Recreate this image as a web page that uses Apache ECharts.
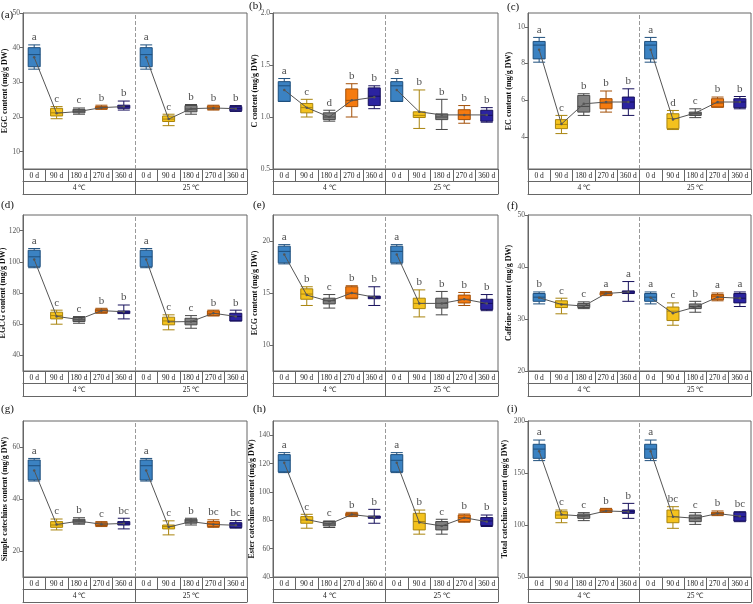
<!DOCTYPE html>
<html>
<head>
<meta charset="utf-8">
<script src="https://cdn.jsdelivr.net/npm/echarts@6/dist/echarts.min.js"></script>
<style>
  html, body { margin: 0; padding: 0; background: #fff; }
  #chart { width: 753px; height: 604px; }
</style>
</head>
<body>
<div id="chart"></div>
<script>
const days = ['0 d', '90 d', '180 d', '270 d', '360 d'];
const groups = ['4 ℃', '25 ℃'];
const dayColors = ['#3b82c2', '#f4c21d', '#808080', '#f57b10', '#2b23a0'];
const dayBorders = ['#1e4f7d', '#a9840e', '#474747', '#a34f07', '#17105c'];

// each box: [min, Q1, median, Q3, max]; order 4 ℃ 0-360 d, then 25 ℃ 0-360 d
const egcBox = [
  [33.8, 34.5, 38.0, 40.0, 40.8], [19.5, 20.3, 21.2, 22.5, 23.0], [20.8, 21.2, 21.7, 22.2, 22.6],
  [22.2, 22.4, 22.7, 23.0, 23.4], [22.0, 22.5, 23.0, 23.4, 24.6],
  [33.8, 34.5, 38.0, 40.0, 40.8], [17.5, 18.7, 19.4, 20.3, 20.8], [20.8, 21.5, 22.3, 23.3, 23.6],
  [22.0, 22.2, 22.6, 23.2, 23.4], [21.6, 21.8, 22.4, 23.0, 23.3]
];
const egcMean = [37.2, 21.1, 21.6, 22.7, 23.0, 37.2, 19.4, 22.4, 22.6, 22.4];
const egcLetters = ['a', 'c', 'c', 'b', 'b', 'a', 'c', 'b', 'b', 'b'];
const egcTicks = [10, 20, 30, 40, 50];

const cBox = [
  [1.15, 1.15, 1.30, 1.34, 1.37], [1.00, 1.04, 1.09, 1.13, 1.17], [0.96, 0.975, 1.00, 1.04, 1.065],
  [1.00, 1.10, 1.16, 1.27, 1.32], [1.08, 1.11, 1.20, 1.28, 1.30],
  [1.15, 1.15, 1.30, 1.34, 1.37], [0.89, 0.995, 1.016, 1.05, 1.26], [0.88, 0.975, 1.00, 1.03, 1.17],
  [0.94, 0.975, 1.02, 1.07, 1.11], [0.95, 0.96, 1.016, 1.065, 1.09]
];
const cMean = [1.26, 1.09, 1.00, 1.16, 1.19, 1.26, 1.05, 1.02, 1.02, 1.02];
const cLetters = ['a', 'c', 'd', 'b', 'b', 'a', 'b', 'b', 'b', 'b'];
const cTicks = [0.5, 1.0, 1.5, 2.0];

const ecBox = [
  [8.07, 8.25, 9.0, 9.2, 9.42], [4.18, 4.45, 4.68, 4.94, 5.17], [5.17, 5.35, 5.66, 6.26, 6.35],
  [5.35, 5.53, 5.84, 6.08, 6.5], [5.17, 5.53, 5.9, 6.17, 6.62],
  [8.07, 8.25, 9.0, 9.2, 9.42], [4.4, 4.45, 5.0, 5.26, 5.44], [5.05, 5.17, 5.26, 5.35, 5.53],
  [5.62, 5.62, 5.84, 6.08, 6.17], [5.53, 5.59, 5.9, 6.08, 6.2]
];
const ecMean = [8.75, 4.7, 5.8, 5.9, 5.9, 8.75, 4.95, 5.3, 5.9, 5.9];
const ecLetters = ['a', 'c', 'b', 'b', 'b', 'a', 'd', 'c', 'b', 'b'];
const ecTicks = [4, 6, 8, 10];

const egcgBox = [
  [96.2, 96.8, 103.2, 107.4, 108.5], [60.0, 63.4, 65.5, 67.7, 69.0], [60.6, 61.7, 62.8, 64.3, 64.9],
  [67.0, 67.4, 68.7, 69.6, 70.2], [63.4, 66.8, 67.7, 68.5, 72.3],
  [96.2, 96.8, 103.2, 107.4, 108.5], [56.4, 59.6, 62.1, 64.5, 66.0], [57.4, 59.6, 61.7, 63.8, 65.5],
  [65.3, 65.5, 67.0, 68.5, 69.0], [62.1, 62.1, 64.9, 67.0, 69.0]
];
const egcgMean = [101.5, 65.0, 63.0, 68.7, 68.0, 101.5, 61.5, 61.7, 67.0, 65.0];
const egcgLetters = ['a', 'c', 'c', 'b', 'b', 'a', 'c', 'c', 'b', 'b'];
const egcgTicks = [40, 60, 80, 100, 120];

const ecgBox = [
  [17.8, 17.9, 19.0, 19.5, 19.65], [13.8, 14.4, 14.9, 15.4, 15.6], [13.55, 13.95, 14.26, 14.5, 14.85],
  [14.45, 14.5, 15.0, 15.6, 15.7], [13.8, 14.45, 14.6, 14.7, 15.6],
  [17.8, 17.9, 19.0, 19.5, 19.65], [12.7, 13.5, 14.0, 14.5, 15.3], [12.9, 13.55, 14.0, 14.5, 15.15],
  [13.8, 14.04, 14.4, 14.8, 15.05], [13.3, 13.4, 14.0, 14.4, 14.85]
];
const ecgMean = [18.7, 14.8, 14.2, 15.0, 14.6, 18.7, 14.0, 14.0, 14.4, 14.0];
const ecgLetters = ['a', 'b', 'c', 'b', 'b', 'a', 'b', 'b', 'b', 'b'];
const ecgTicks = [10, 15, 20];

const cafBox = [
  [32.9, 33.4, 34.2, 34.9, 35.2], [31.0, 32.2, 32.9, 33.5, 34.0], [32.0, 32.2, 32.6, 33.0, 33.3],
  [34.5, 34.6, 34.9, 35.1, 35.3], [33.4, 34.9, 35.2, 35.4, 37.2],
  [32.9, 33.4, 34.2, 34.9, 35.2], [28.8, 29.7, 31.5, 32.3, 33.1], [31.3, 32.0, 32.4, 32.9, 33.4],
  [33.5, 33.7, 34.4, 34.7, 35.0], [32.4, 33.1, 34.0, 34.9, 35.2]
];
const cafMean = [34.1, 32.8, 32.5, 34.9, 35.2, 34.1, 31.1, 32.3, 34.2, 34.0];
const cafLetters = ['b', 'c', 'c', 'a', 'a', 'a', 'c', 'b', 'a', 'a'];
const cafTicks = [20, 30, 40, 50];

const simpleBox = [
  [46.9, 47.3, 52.8, 55.0, 55.6], [28.1, 29.1, 30.0, 31.3, 32.3], [30.3, 30.7, 31.6, 32.2, 32.8],
  [29.4, 29.8, 30.4, 30.9, 31.3], [28.5, 30.0, 30.7, 31.3, 32.6],
  [46.9, 47.3, 52.8, 55.0, 55.6], [26.2, 28.5, 29.4, 30.0, 31.6], [30.0, 30.7, 31.6, 32.2, 32.6],
  [29.1, 29.4, 30.4, 31.3, 32.0], [28.8, 29.0, 30.0, 30.9, 31.7]
];
const simpleMean = [51.0, 30.2, 31.5, 30.3, 30.6, 51.0, 29.2, 31.3, 30.2, 29.9];
const simpleLetters = ['a', 'c', 'b', 'c', 'bc', 'a', 'c', 'b', 'bc', 'bc'];
const simpleTicks = [20, 40, 60];

const esterBox = [
  [113.6, 114.1, 122.3, 126.3, 127.7], [74.4, 77.9, 80.2, 82.6, 84.2], [74.9, 76.0, 77.4, 79.1, 79.5],
  [82.6, 83.0, 84.2, 84.9, 85.6], [77.9, 81.4, 82.3, 83.0, 87.7],
  [113.6, 114.1, 122.3, 126.3, 127.7], [70.2, 73.2, 79.1, 84.9, 87.2], [70.2, 73.2, 76.3, 79.1, 80.7],
  [78.6, 79.1, 81.9, 83.7, 84.4], [75.6, 76.3, 79.5, 81.9, 83.7]
];
const esterMean = [120.5, 80.5, 77.3, 84.0, 82.3, 120.5, 78.5, 76.0, 81.8, 79.0];
const esterLetters = ['a', 'c', 'c', 'b', 'b', 'a', 'b', 'c', 'b', 'b'];
const esterTicks = [40, 60, 80, 100, 120, 140];

const totalBox = [
  [161.9, 164.1, 173.0, 177.6, 181.7], [102.2, 106.4, 109.6, 112.8, 114.4], [104.2, 106.4, 108.7, 110.6, 111.9],
  [112.2, 112.2, 113.8, 115.4, 116.0], [106.4, 111.2, 112.8, 114.4, 120.8],
  [161.9, 164.1, 173.0, 177.6, 181.7], [96.8, 102.2, 108.0, 114.4, 117.6], [100.6, 103.2, 106.4, 109.6, 111.9],
  [109.0, 109.6, 111.2, 112.2, 113.5], [103.2, 103.8, 108.0, 112.2, 112.8]
];
const totalMean = [171, 110, 108.6, 113.5, 112.8, 171, 108, 106.5, 111, 108.5];
const totalLetters = ['a', 'c', 'c', 'b', 'b', 'a', 'bc', 'c', 'b', 'bc'];
const totalTicks = [50, 100, 150, 200];

const panels = [
  { tag: '(a)', name: 'EGC content (mg/g DW)', box: egcBox, mean: egcMean, letters: egcLetters, ticks: egcTicks, min: 5, max: 50, dec: 0 },
  { tag: '(b)', name: 'C content (mg/g DW)', box: cBox, mean: cMean, letters: cLetters, ticks: cTicks, min: 0.5, max: 2.0, dec: 1 },
  { tag: '(c)', name: 'EC content (mg/g DW)', box: ecBox, mean: ecMean, letters: ecLetters, ticks: ecTicks, min: 2.25, max: 10.75, dec: 0 },
  { tag: '(d)', name: 'EGCG content (mg/g DW)', box: egcgBox, mean: egcgMean, letters: egcgLetters, ticks: egcgTicks, min: 30, max: 130, dec: 0 },
  { tag: '(e)', name: 'ECG content (mg/g DW)', box: ecgBox, mean: ecgMean, letters: ecgLetters, ticks: ecgTicks, min: 7.5, max: 22.5, dec: 0 },
  { tag: '(f)', name: 'Caffeine content (mg/g DW)', box: cafBox, mean: cafMean, letters: cafLetters, ticks: cafTicks, min: 20, max: 50, dec: 0 },
  { tag: '(g)', name: 'Simple catechins content (mg/g DW)', box: simpleBox, mean: simpleMean, letters: simpleLetters, ticks: simpleTicks, min: 10, max: 70, dec: 0 },
  { tag: '(h)', name: 'Ester catechins content (mg/g DW)', box: esterBox, mean: esterMean, letters: esterLetters, ticks: esterTicks, min: 40, max: 150, dec: 0 },
  { tag: '(i)', name: 'Total catechins content (mg/g DW)', box: totalBox, mean: totalMean, letters: totalLetters, ticks: totalTicks, min: 50, max: 200, dec: 0 }
];

// layout
const serif = '"Liberation Serif", "Times New Roman", serif';
const colLeft = [23, 273, 528];
const colWidth = [224, 225, 223];
const rowTop = [13, 215, 421];
const plotH = 156;
const rowH = 12.5;
const nameGaps = [14, 14, 15, 16.5, 14.5, 15.5, 14.5, 17, 19];
const tagPos = [[1, 10], [249, 1], [507, 2], [1, 200], [253, 200], [507, 201], [1, 404], [253, 404], [507, 404]];
const lineCol = '#666';

const cats = [];
groups.forEach(g => days.forEach(d => cats.push(g + '|' + d)));

const grid = [], xAxis = [], yAxis = [], series = [], graphic = [];

panels.forEach((p, k) => {
  const r = Math.floor(k / 3), c = k % 3;
  grid.push({
    left: colLeft[c], top: rowTop[r], width: colWidth[c], height: plotH,
    show: true, borderColor: lineCol, borderWidth: 1, backgroundColor: 'transparent',
    outerBoundsMode: 'none', containLabel: false
  });
  const xi = xAxis.length;
  // day row of the table
  xAxis.push({
    gridIndex: k, type: 'category', data: cats, position: 'bottom',
    axisLine: { show: true, lineStyle: { color: lineCol } },
    axisTick: { show: true, interval: 0, length: rowH, lineStyle: { color: lineCol } },
    axisLabel: {
      interval: 0, margin: 3, fontSize: 7.5, fontFamily: serif, color: '#222',
      formatter: v => v.split('|')[1]
    },
    splitLine: { show: false }
  });
  // temperature row of the table
  xAxis.push({
    gridIndex: k, type: 'category', data: groups, position: 'bottom', offset: rowH,
    axisLine: { show: true, lineStyle: { color: lineCol } },
    axisTick: { show: true, interval: 0, length: rowH, lineStyle: { color: lineCol } },
    axisLabel: { interval: 0, margin: 3, fontSize: 7.5, fontFamily: serif, color: '#222' },
    splitLine: { show: false }
  });
  // bottom line of the table, also carries the group divider
  xAxis.push({
    gridIndex: k, type: 'value', min: 0, max: 10, position: 'bottom', offset: 2 * rowH,
    axisLine: { show: true, lineStyle: { color: lineCol } },
    axisTick: { show: false }, axisLabel: { show: false }, splitLine: { show: false }
  });
  yAxis.push({
    gridIndex: k, type: 'value', min: p.min, max: p.max, position: 'left',
    name: p.name, nameLocation: 'middle', nameGap: nameGaps[k], nameMoveOverlap: false,
    nameTextStyle: { fontWeight: 'bold', fontSize: 8, fontFamily: serif, color: '#111' },
    axisLine: { show: true, lineStyle: { color: lineCol } },
    axisTick: { show: true, length: 3, customValues: p.ticks, lineStyle: { color: lineCol } },
    axisLabel: {
      customValues: p.ticks, fontSize: 7.5, fontFamily: serif, color: '#555', margin: 3,
      formatter: v => Number(v).toFixed(p.dec)
    },
    splitLine: { show: false }
  });

  series.push({
    type: 'boxplot', xAxisIndex: xi, yAxisIndex: k, boxWidth: [12, 12], z: 2,
    data: p.box.map((b, i) => ({
      value: b,
      itemStyle: { color: dayColors[i % 5], borderColor: dayBorders[i % 5], borderWidth: 1 }
    }))
  });
  [0, 1].forEach(g => {
    series.push({
      type: 'line', xAxisIndex: xi, yAxisIndex: k, z: 4,
      data: p.mean.map((v, i) => (Math.floor(i / 5) === g ? v : '-')),
      symbol: 'circle', symbolSize: 2.5,
      itemStyle: { color: '#555' }, lineStyle: { color: '#555', width: 1 }
    });
  });
  series.push({
    type: 'scatter', xAxisIndex: xi, yAxisIndex: k, z: 5, symbolSize: 0,
    data: p.box.map((b, i) => [i, b[4]]),
    label: {
      show: true, position: 'top', distance: 2, fontSize: 11, fontFamily: serif, color: '#222',
      formatter: prm => p.letters[prm.dataIndex]
    }
  });
  series.push({
    type: 'line', xAxisIndex: xi + 2, yAxisIndex: k, data: [], silent: true,
    markLine: {
      silent: true, symbol: ['none', 'none'], label: { show: false },
      lineStyle: { type: 'dashed', color: '#999', width: 1 },
      data: [{ xAxis: 5 }]
    }
  });
  graphic.push({
    type: 'text', left: tagPos[k][0], top: tagPos[k][1],
    style: { text: p.tag, font: '11px ' + serif, fill: '#111' }
  });
});

const chart = echarts.init(document.getElementById('chart'));
chart.setOption({
  animation: false,
  backgroundColor: '#fff',
  grid, xAxis, yAxis, series, graphic
});
</script>
</body>
</html>
